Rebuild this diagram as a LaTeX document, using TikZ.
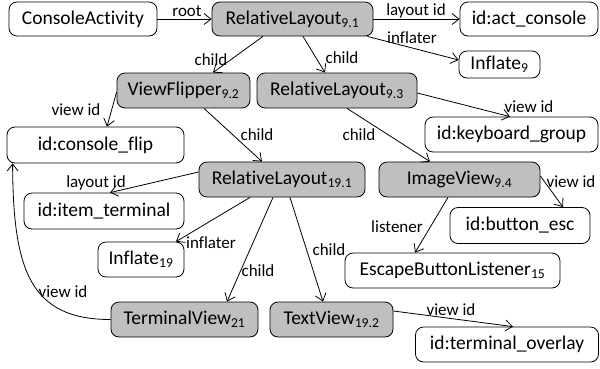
\documentclass[tikz,border=0pt]{standalone}
\usepackage{fontspec}
\setmainfont{Carlito}[Ligatures={NoCommon,NoContextual},RawFeature={-liga;-clig;-calt;-dlig}]
\usetikzlibrary{arrows.meta}
\definecolor{boxgray}{HTML}{BFBFBF}
\tikzset{
  box/.style={draw=black, line width=0.8pt, rounded corners=8pt, inner sep=0pt,
    font=\fontsize{19.5}{22}\selectfont, minimum height=34pt},
  gbox/.style={box, fill=boxgray},
  wbox/.style={box, fill=white},
  lbl/.style={font=\fontsize{17}{19}\selectfont, inner sep=0pt, anchor=base},
  edge/.style={draw=black, line width=0.8pt, -{Straight Barb[length=7pt,width=11pt,line width=0.8pt]}},
}
\newcommand{\sbs}[1]{\textsubscript{#1}}
\begin{document}
\begin{tikzpicture}[x=1pt,y=-1pt]
\useasboundingbox (0,0) rectangle (600,368);
% nodes
\node[wbox, minimum width=148pt] (ca) at (83,19) {ConsoleActivity};
\node[gbox, minimum width=161pt] (rl91) at (292.5,19) {RelativeLayout\sbs{9.1}};
\node[wbox, minimum width=138pt] (act) at (529,19) {id:act\_console};
\node[wbox, minimum width=81pt, minimum height=27pt] (inf9) at (499.5,64.5) {Inflate\sbs{9}};
\node[gbox, minimum width=133pt, minimum height=35pt] (vf) at (183.5,90.5) {ViewFlipper\sbs{9.2}};
\node[gbox, minimum width=160pt, minimum height=35pt] (rl93) at (337,90.5) {RelativeLayout\sbs{9.3}};
\node[wbox, minimum width=177pt, minimum height=36pt] (flip) at (95.5,145) {id:console\_flip};
\node[wbox, minimum width=173pt, minimum height=35pt] (kbd) at (511.5,134.5) {id:keyboard\_group};
\node[gbox, minimum width=166pt, minimum height=35pt] (rl191) at (282,179.5) {RelativeLayout\sbs{19.1}};
\node[gbox, minimum width=161pt, minimum height=35pt] (iv) at (459.5,179.5) {ImageView\sbs{9.4}};
\node[wbox, minimum width=160pt, minimum height=36pt] (item) at (104,211) {id:item\_terminal};
\node[wbox, minimum width=140pt, minimum height=36pt] (esc) at (520,225.5) {id:button\_esc};
\node[wbox, minimum width=86pt, minimum height=35pt] (inf19) at (141,259.5) {Inflate\sbs{19}};
\node[wbox, minimum width=215pt, minimum height=35pt] (ebl) at (452.5,270.5) {EscapeButtonListener\sbs{15}};
\node[gbox, minimum width=147pt, minimum height=35pt] (tv) at (184.5,319.5) {TerminalView\sbs{21}};
\node[gbox, minimum width=123pt, minimum height=35pt] (txt) at (331.5,319.5) {TextView\sbs{19.2}};
\node[wbox, minimum width=183pt, minimum height=35pt] (ovl) at (507,344.5) {id:terminal\_overlay};
% connectors
\path[edge] (ca.east) -- (rl91.west) node[lbl] (l1) at (187,16) {root};
\path[edge] (rl91.east) -- (act.west) node[lbl] (l2) at (416,15) {layout id};
\path[edge] ([xshift=-6pt]rl91.south east) -- ([yshift=4.5pt]inf9.west) node[lbl] (l3) at (412,43) {inflater};
\path[edge] ([xshift=-29.5pt]rl91.south) -- ([xshift=29.5pt]vf.north) node[lbl] (l4) at (211,65) {child};
\path[edge] ([xshift=10.5pt]rl91.south) -- ([xshift=-12pt]rl93.north) node[lbl] (l5) at (342,63) {child};
\path[edge] ([yshift=-1.5pt]vf.west) -- ([xshift=11.5pt]flip.north) node[lbl] (l6) at (76,115) {view id};
\path[edge] ([xshift=20.5pt]vf.south) -- ([xshift=-20pt]rl191.north) node[lbl] (l7) at (257,140) {child};
\path[edge] ([yshift=-2.5pt]rl93.east) -- ([xshift=-1.5pt]kbd.north) node[lbl] (l8) at (529,112) {view id};
\path[edge] ([xshift=10pt]rl93.south) -- ([xshift=-29.5pt]iv.north) node[lbl] (l9) at (359,140) {child};
\path[edge] ([yshift=7.5pt]rl191.west) -- ([xshift=6pt]item.north) node[lbl] (l10) at (96,187) {layout id};
\path[edge] ([xshift=-32pt]rl191.south) -- ([xshift=35pt]inf19.north) node[lbl] (l11) at (211,248) {inflater};
\path[edge] ([xshift=-9pt]rl191.south) -- ([xshift=42.5pt]tv.north) node[lbl] (l12) at (258,276) {child};
\path[edge] ([xshift=8pt]rl191.south) -- ([xshift=-8.5pt]txt.north) node[lbl] (l13) at (329,255) {child};
\path[edge] ([xshift=-11.5pt]iv.south) -- ([xshift=-37.5pt]ebl.north) node[lbl] (l14) at (397,232) {listener};
\path[edge] ([yshift=3.5pt]iv.east) -- ([xshift=43pt]esc.north) node[lbl] (l15) at (571,187) {view id};
\path[edge] (tv.west) .. controls (30,319.5) and (13,270) .. ([xshift=6pt]flip.south west) node[lbl] (l16) at (63,297) {view id};
\path[edge] ([yshift=8.5pt]txt.east) -- ([xshift=6pt]ovl.north) node[lbl] (l17) at (451,315) {view id};
\end{tikzpicture}
\end{document}
